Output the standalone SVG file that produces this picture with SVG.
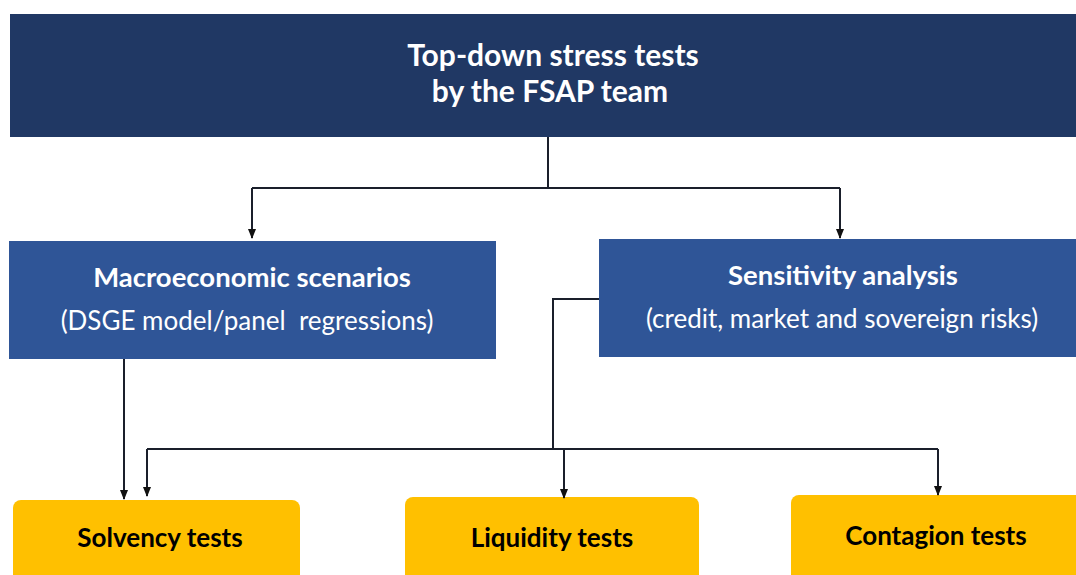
<svg xmlns="http://www.w3.org/2000/svg" width="1076" height="575" viewBox="0 0 1076 575">
<defs>
<marker id="arr" markerWidth="10" markerHeight="10" refX="9" refY="5" orient="auto" markerUnits="userSpaceOnUse" viewBox="0 0 10 10">
<path d="M0,1 L10,5 L0,9 Z" fill="#111"/>
</marker>
<style>
.t{font-family:Lato,"Liberation Sans",sans-serif;text-anchor:middle}
.w{fill:#fff}
.b{font-weight:bold}
.k{fill:#000}
.c{fill:none;stroke:#1a1f2b;stroke-width:2}
.y{fill:#FFC000}
.m{fill:#2F5597}
</style>
</defs>
<rect width="1076" height="575" fill="#fff"/>
<g id="top">
<rect x="10" y="14" width="1070" height="123" fill="#203864"/>
<text class="t w b" x="553" y="66" font-size="30">Top-down stress tests</text>
<text class="t w b" x="550" y="102" font-size="30">by the FSAP team</text>
</g>
<g id="macro">
<rect class="m" x="9" y="241" width="487" height="118"/>
<text class="t w b" x="252" y="287" font-size="27.5">Macroeconomic scenarios</text>
<text class="t w" x="247" y="330" font-size="26" style="white-space:pre">(DSGE model/panel  regressions)</text>
</g>
<g id="sens">
<rect class="m" x="599" y="239" width="481" height="118"/>
<text class="t w b" x="843" y="285" font-size="27.5">Sensitivity analysis</text>
<text class="t w" x="842" y="328" font-size="26">(credit, market and sovereign risks)</text>
</g>
<g id="solv">
<rect class="y" x="13" y="500" width="287" height="90" rx="8"/>
<text class="t k b" x="160" y="547" font-size="26">Solvency tests</text>
</g>
<g id="liq">
<rect class="y" x="405" y="497" width="294" height="90" rx="8"/>
<text class="t k b" x="552" y="547" font-size="26">Liquidity tests</text>
</g>
<g id="cont">
<rect class="y" x="791" y="495" width="295" height="90" rx="8"/>
<text class="t k b" x="936" y="545" font-size="26">Contagion tests</text>
</g>
<g id="connectors">
<path class="c" d="M548,137 V188"/>
<path class="c" d="M252,188 H840" />
<path class="c" d="M252,188 V238" marker-end="url(#arr)"/>
<path class="c" d="M840,188 V238" marker-end="url(#arr)"/>
<path class="c" d="M124,359 V499" marker-end="url(#arr)"/>
<path class="c" d="M599,299 H553 V449"/>
<path class="c" d="M147,449 H938"/>
<path class="c" d="M147,449 V496" marker-end="url(#arr)"/>
<path class="c" d="M564,449 V498" marker-end="url(#arr)"/>
<path class="c" d="M938,449 V495" marker-end="url(#arr)"/>
</g>
</svg>
